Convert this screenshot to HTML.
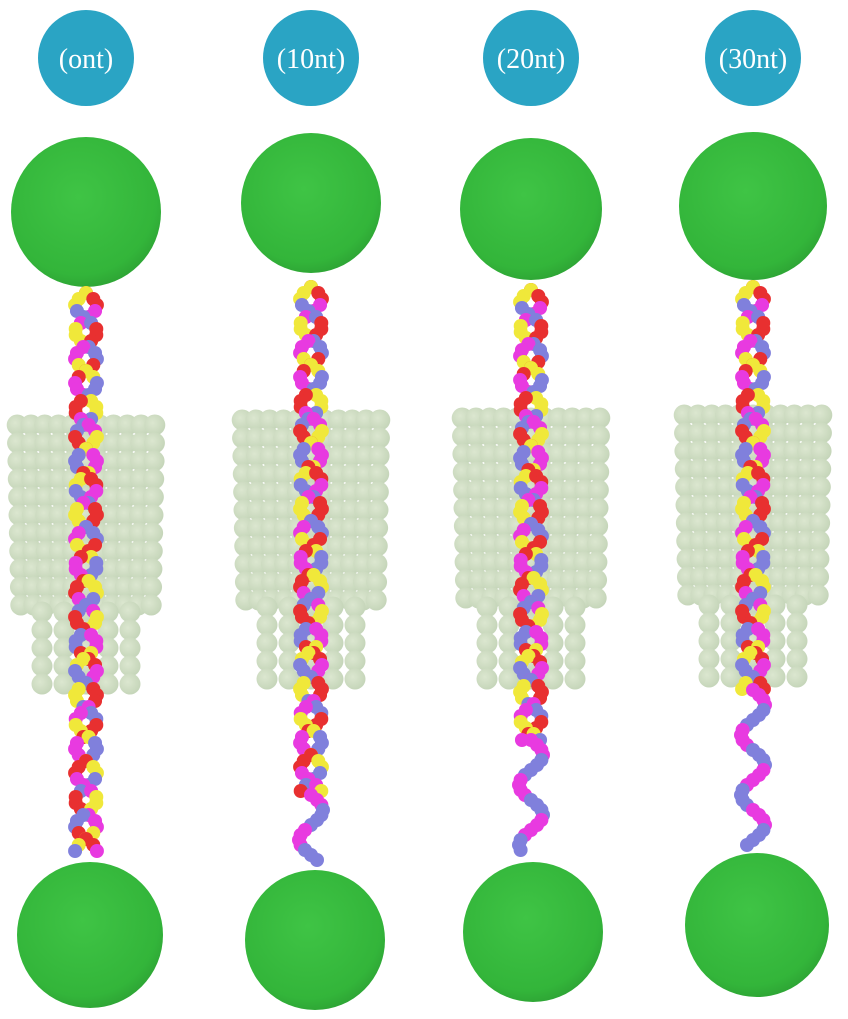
<!DOCTYPE html>
<html><head><meta charset="utf-8">
<style>
html,body{margin:0;padding:0;background:#fff;}
svg{display:block;}
text{font-family:"Liberation Serif",serif;}
</style></head>
<body>
<svg id="fig" width="848" height="1019" viewBox="0 0 848 1019" xmlns="http://www.w3.org/2000/svg">
<defs>
<radialGradient id="gs" cx="0.45" cy="0.4" r="0.65">
<stop offset="0" stop-color="#3fc445"/><stop offset="0.8" stop-color="#33b53a"/><stop offset="1" stop-color="#2c9f33"/>
</radialGradient>
<radialGradient id="pb" cx="0.4" cy="0.4" r="0.7">
<stop offset="0" stop-color="#d6e3c8"/><stop offset="1" stop-color="#b8ccaa"/>
</radialGradient>
</defs>
</svg>
<script>
const labels=["(ont)","(10nt)","(20nt)","(30nt)"];
const colX=[86,311,531,753];
const topSphereY=[212,203,209,206];
const topSphereR=[75,70,71,74];
const botSphereY=[935,940,932,925];
const botSphereR=[73,70,70,72];
const botSphereX=[90,315,533,757];
const poreTop=[415,410,408,405];
const poreMid=[612,607,607,605];
const poreBot=[695,695,690,690];
const strandTop=[293,287,290,287];
const doubleEnd=[855,795,740,690];
const strandEnd=[858,860,852,848];
const svg=document.getElementById('fig');
const NS="http://www.w3.org/2000/svg";
function mk(t,a,p){const e=document.createElementNS(NS,t);for(const k in a)e.setAttribute(k,a[k]);(p||svg).appendChild(e);return e;}
const cols=["#e83030","#e83ae0","#f0e83a","#8080dc"];
for(let i=0;i<4;i++){
  const cx=colX[i];
  const g=mk('g',{});
  
  
  const lc=mk('circle',{cx:cx,cy:58,r:48,fill:'#2aa4c4'},g);
  
  
  const tx=mk('text',{x:cx,y:68,'text-anchor':'middle','font-size':28,fill:'#fff'},g);
  tx.textContent=labels[i];
  
  
  const ts=mk('circle',{cx:cx,cy:topSphereY[i],r:topSphereR[i],fill:'url(#gs)'},g);
  
  
  const bs=mk('circle',{cx:botSphereX[i],cy:botSphereY[i],r:botSphereR[i],fill:'url(#gs)'},g);
  
  
  const pg=mk('g',{opacity:0.85},g);
  
  
  for(let y=poreTop[i]+10;y<poreMid[i];y+=18){
    const w=69-(y-poreTop[i])*0.02;
    for(let x=-w;x<=w+0.1;x+=w/5) mk('circle',{cx:cx+x,cy:y,r:10.5,fill:'url(#pb)'},pg);
  }
  for(let y=poreMid[i];y<poreBot[i];y+=18){
    for(let x=-44;x<=44.1;x+=22) mk('circle',{cx:cx+x,cy:y,r:10.5,fill:'url(#pb)'},pg);
  }
  const sg=mk('g',{},g);
  
  
  const P=52,A=11;
  let n=0;
  for(let y=strandTop[i];y<=doubleEnd[i];y+=6){
    for(let s=0;s<2;s++){
      const ph=2*Math.PI*(y-strandTop[i])/P+s*Math.PI;
      const x=cx+A*Math.sin(ph);
      const c=cols[(Math.floor(n/3)+s*2)%4];
      mk('circle',{cx:x,cy:y,r:7,fill:c},sg);
    }
    n++;
  }
  if(doubleEnd[i]<strandEnd[i]-10){
    for(let y=doubleEnd[i];y<=strandEnd[i];y+=5){
      const ph=2*Math.PI*(y-doubleEnd[i])/60;
      const x=cx+12*Math.sin(ph);
      const c=(Math.floor(n/4)%2)?"#e83ae0":"#8080dc";
      mk('circle',{cx:x,cy:y,r:7,fill:c},sg);
      n++;
    }
  }
}
</script>
</body></html>
